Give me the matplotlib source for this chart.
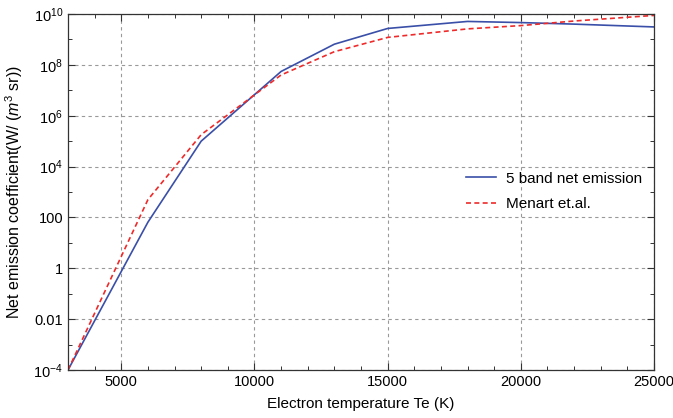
import matplotlib
matplotlib.use("Agg")
import matplotlib.pyplot as plt
from matplotlib.ticker import FixedLocator, FixedFormatter, MultipleLocator

plt.rcParams['font.family'] = ['Liberation Sans', 'DejaVu Sans']
plt.rcParams['mathtext.fontset'] = 'custom'
plt.rcParams['mathtext.rm'] = 'Liberation Sans'
plt.rcParams['mathtext.it'] = 'Liberation Sans:italic'

# Data
temp_blue = [3000, 6000, 8000, 11000, 13000, 15000, 18000, 20000, 22000, 25000]
emis_blue = [1e-4, 65, 1e5, 5.5e7, 6.5e8, 2.7e9, 5.1e9, 4.6e9, 4.0e9, 3.1e9]
temp_red = [3000, 6000, 8000, 11000, 13000, 15000, 18000, 20000, 22000, 25000]
emis_red = [1e-4, 500, 1.8e5, 4e7, 3.3e8, 1.2e9, 2.6e9, 3.5e9, 5.3e9, 8.8e9]
label_blue = "5 band net emission"
label_red = "Menart et.al."
ytick_vals = [1e-4, 1e-2, 1, 1e2, 1e4, 1e6, 1e8, 1e10]
ytick_labels = [r"$10^{-4}$", "0.01", "1", "100", r"$10^{4}$", r"$10^{6}$", r"$10^{8}$", r"$10^{10}$"]
xtick_vals = [5000, 10000, 15000, 20000, 25000]

fig = plt.figure(figsize=(6.73, 4.18), dpi=100)
ax = fig.add_axes([68/673, 1 - 370/418, 586/673, 356/418])

ax.plot(temp_blue, emis_blue, color='#3a4fa8', lw=1.2, label=label_blue)
ax.plot(temp_red, emis_red, color='#ee2a2a', lw=1.2, ls=(0, (3, 2)), label=label_red)

ax.set_yscale('log')
ax.set_xlim(3000, 25000)
ax.set_ylim(1e-4, 1e10)

ax.yaxis.set_major_locator(FixedLocator(ytick_vals))
ax.yaxis.set_major_formatter(FixedFormatter(ytick_labels))
ax.yaxis.set_minor_locator(FixedLocator([1e-3, 1e-1, 10, 1e3, 1e5, 1e7, 1e9]))
ax.yaxis.set_minor_formatter(FixedFormatter([]))
ax.xaxis.set_major_locator(FixedLocator(xtick_vals))
ax.xaxis.set_minor_locator(MultipleLocator(1000))

ax.tick_params(which='both', direction='in', top=True, right=True, labelsize=10.5, color='#333333')
ax.tick_params(which='major', length=5, width=0.8)
ax.tick_params(which='minor', length=3, width=0.7)
for s in ax.spines.values():
    s.set_color('#333333')
    s.set_linewidth(0.9)

ax.grid(True, which='major', color='#999999', ls=(0, (3, 3)), lw=0.8)

ax.set_xlabel("Electron temperature Te (K)", fontsize=11, labelpad=6)
ax.set_ylabel(r"Net emission coefficient(W/ ($m^3$ sr))", fontsize=11.5, labelpad=6)

leg = ax.legend(loc='upper left', bbox_to_anchor=(0.679, 0.557), frameon=False,
                fontsize=11, handlelength=2.0, handletextpad=0.6, labelspacing=0.75,
                borderpad=0, borderaxespad=0)

fig.savefig("out.png", dpi=100)
